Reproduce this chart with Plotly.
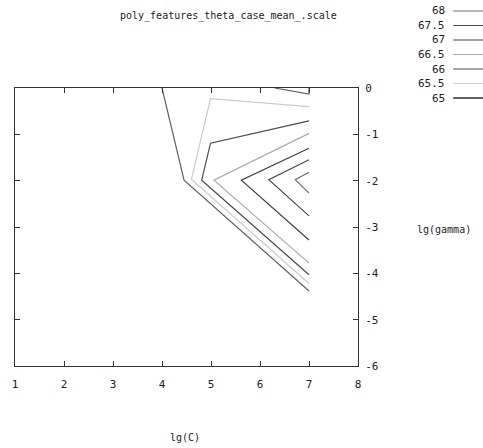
import plotly.graph_objects as go

# Contour levels (cross-validation accuracy, %) and their line styles
levels = ["68", "67.5", "67", "66.5", "66", "65.5", "65"]
level_colors = ["#707070", "#4a4a4a", "#404040", "#ababab", "#4a4a4a", "#cccccc", "#606060"]

# Contour polylines in (lg(C), lg(gamma)); None separates pieces of one level
c68_x = [7.0, 6.72, 7.0]
c68_y = [-1.82, -1.98, -2.27]
c67_5_x = [7.0, 6.18, 7.0]
c67_5_y = [-1.55, -1.98, -2.76]
c67_x = [7.0, 5.62, 7.0]
c67_y = [-1.30, -1.99, -3.28]
c66_5_x = [7.0, 5.06, 7.0]
c66_5_y = [-0.98, -1.99, -3.78]
c66_x = [7.0, 4.99, 4.81, 7.0]
c66_y = [-0.71, -1.19, -1.99, -4.03]
c65_5_x = [7.0, 4.99, 4.60, 7.0]
c65_5_y = [-0.40, -0.23, -1.97, -4.22]
c65_x = [4.0, 4.45, 7.0, None, 6.3, 7.0, 7.0]
c65_y = [0.0, -1.99, -4.38, None, 0.0, -0.13, 0.0]

contours_x = [c68_x, c67_5_x, c67_x, c66_5_x, c66_x, c65_5_x, c65_x]
contours_y = [c68_y, c67_5_y, c67_y, c66_5_y, c66_y, c65_5_y, c65_y]

# Axis ticks
x_ticks = [1, 2, 3, 4, 5, 6, 7, 8]
x_tick_text = ["1", "2", "3", "4", "5", "6", "7", "8"]
y_ticks = [0, -1, -2, -3, -4, -5, -6]
y_tick_text = ["0", "-1", "-2", "-3", "-4", "-5", "-6"]

title_text = "poly_features_theta_case_mean_.scale"
FONT = "DejaVu Sans Mono"
TXT = "#222222"

W, H = 483, 448
L, R, T, B = 12, 358, 88, 366   # plot frame in pixels


def px_x(px):
    return (px - L) / (R - L)


def px_y(py):
    return (B - py) / (B - T)


fig = go.Figure()
for name, color, xs, ys in zip(levels, level_colors, contours_x, contours_y):
    fig.add_trace(go.Scatter(
        x=xs, y=ys, mode="lines", name=name,
        line=dict(color=color, width=1.2),
        showlegend=False, connectgaps=False,
    ))

# gnuplot-style key: label on the left, line sample on the right
annotations = []
shapes = []
for i, (name, color) in enumerate(zip(levels, level_colors)):
    py = 11 + 14.5 * i
    annotations.append(dict(
        x=px_x(448), y=px_y(py), xref="paper", yref="paper",
        text=name, showarrow=False, xanchor="right", yanchor="middle",
        font=dict(family=FONT, size=11, color=TXT),
    ))
    shapes.append(dict(
        type="line", xref="paper", yref="paper",
        x0=px_x(454), x1=px_x(500), y0=px_y(py), y1=px_y(py),
        line=dict(color=color, width=2 if name == "65" else 1.2),
    ))

annotations.append(dict(
    x=px_x(183), y=px_y(437), xref="paper", yref="paper",
    text="lg(C)", showarrow=False, xanchor="center", yanchor="middle",
    font=dict(family=FONT, size=10, color=TXT),
))
annotations.append(dict(
    x=px_x(445), y=px_y(229), xref="paper", yref="paper",
    text="lg(gamma)", showarrow=False, xanchor="center", yanchor="middle",
    font=dict(family=FONT, size=10, color=TXT),
))
annotations.append(dict(
    x=px_x(227), y=px_y(16), xref="paper", yref="paper",
    text=title_text, showarrow=False, xanchor="center", yanchor="middle",
    font=dict(family=FONT, size=10, color=TXT),
))

fig.update_layout(
    width=W, height=H,
    margin=dict(l=L, r=W - R, t=T, b=H - B, pad=0),
    paper_bgcolor="white", plot_bgcolor="white",
    annotations=annotations, shapes=shapes,
    showlegend=False,
)
fig.update_xaxes(
    range=[1, 8], tickvals=x_ticks, ticktext=x_tick_text,
    showgrid=False, zeroline=False,
    showline=True, linecolor="#333333", linewidth=1, mirror="ticks",
    ticks="inside", ticklen=5, tickcolor="#333333", tickwidth=1,
    tickfont=dict(family=FONT, size=11, color=TXT),
    ticklabelstandoff=8,
)
fig.update_yaxes(
    range=[-6, 0], tickvals=y_ticks, ticktext=y_tick_text, side="right",
    showgrid=False, zeroline=False,
    showline=True, linecolor="#333333", linewidth=1, mirror="ticks",
    ticks="inside", ticklen=5, tickcolor="#333333", tickwidth=1,
    tickfont=dict(family=FONT, size=11, color=TXT),
    ticklabelstandoff=4,
)

fig.write_html("out.html")
